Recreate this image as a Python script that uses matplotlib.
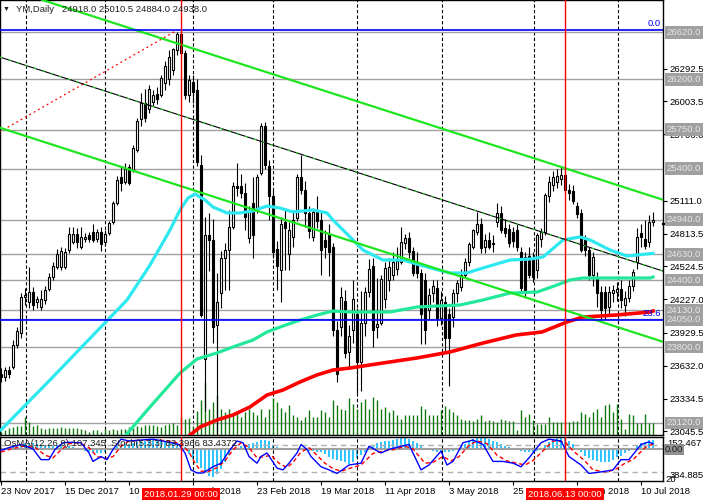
import matplotlib
matplotlib.use('Agg')
import matplotlib.pyplot as plt
import matplotlib.transforms as mtransforms
import numpy as np

plt.rcParams['font.family'] = ['Liberation Sans', 'DejaVu Sans']
FS = 6.8

# ---- data ----
opens = [
    23560, 23530, 23590, 23620, 23820, 23930, 24250, 24200, 24290, 24200,
    24160, 24220, 24320, 24430, 24520, 24520, 24520, 24670, 24740, 24810,
    24700, 24770, 24800, 24830, 24770, 24830, 24740, 24820, 24920, 25090,
    25320, 25280, 25410, 25390, 25570, 25840, 25990, 25930, 26000, 26070,
    26060, 26170, 26200, 26280, 26460, 26610, 26440, 26060, 26180, 26100,
    25430, 23690, 24800, 24760, 24000, 24280, 24600, 24670, 24880, 25240,
    25240, 25180, 24780, 25090, 25050, 25360, 25780, 25420, 25150, 24680,
    24490, 24920, 24630, 24790, 24960, 25320, 25210, 25000, 24790, 25020,
    24940, 24760, 24800, 24700, 23950, 23980, 24210, 23760, 23950, 24100,
    23670, 24020, 24290, 24530, 23980, 24020, 24230, 24400, 24450, 24500,
    24560, 24730, 24780, 24660, 24550, 24460, 24400, 24130, 24280, 24330,
    24060, 24200, 24100, 24070, 24280, 24340, 24450, 24560, 24700, 24830,
    24900, 24700, 24760, 24730, 24920, 25000, 24870, 24860, 24830, 24850,
    24650, 24610, 24620, 24580, 24490, 24770, 24830, 25150, 25250, 25280,
    25310, 25340, 25210, 25200, 25060, 25000, 24760, 24670, 24450, 24420,
    24290, 24290, 24160, 24280, 24290, 24320, 24180, 24240, 24350, 24560,
    24820, 24770, 24740, 24918]
highs = [
    23610, 23620, 23630, 23860, 23980, 24280, 24330, 24520, 24340, 24260,
    24310, 24350, 24460, 24560, 24680, 24700, 24690, 24880, 24880, 24870,
    24880, 24820, 24830, 24900, 24860, 24880, 24850, 24930, 25110, 25330,
    25420, 25450, 25440, 25610, 25850, 26080, 26110, 26150, 26100, 26130,
    26240, 26360, 26460, 26480, 26620, 26640, 26460, 26240, 26240, 26200,
    25520, 24970, 25000, 24950, 24460, 24660, 24730, 25030, 25280, 25450,
    25350, 25270, 25060, 25320, 25350, 25810, 25820, 25480, 25220, 24750,
    24970, 25030, 24920, 25030, 25350, 25520, 25290, 25060, 25050, 25150,
    25020, 24850, 24900, 24730, 24030, 24340, 24310, 24000, 24400, 24150,
    24300, 24340, 24590, 24600, 24420, 24450, 24560, 24600, 24650, 24700,
    24880, 24810, 24830, 24700, 24650, 24500, 24460, 24330, 24400, 24400,
    24300, 24260, 24150, 24320, 24400, 24500, 24600, 24740, 24860, 25010,
    24960, 24810, 24830, 24800, 25090, 25060, 24950, 24900, 24880, 24900,
    24700, 24650, 24700, 24650, 24820, 24870, 25180, 25330, 25380, 25400,
    25420, 25420, 25260, 25250, 25100, 25040, 24800, 24700, 24650, 24470,
    24350, 24350, 24350, 24360, 24380, 24400, 24300, 24400, 24500, 24870,
    24900, 24940, 24980, 25010.5]
lows = [
    23490, 23500, 23520, 23600, 23790, 23880, 24180, 24150, 24130, 24150,
    24130, 24190, 24300, 24400, 24500, 24490, 24500, 24640, 24720, 24690,
    24680, 24740, 24740, 24740, 24740, 24660, 24710, 24800, 24900, 25070,
    25200, 25260, 25250, 25370, 25550, 25780, 25820, 25900, 25960, 25980,
    26040, 26100, 26150, 26240, 26420, 26420, 26020, 26000, 25990, 25420,
    24070, 23230, 24480, 23840, 23020, 24150, 24310, 24310, 24860, 25150,
    25140, 24850, 24730, 24600, 25000, 25340, 25400, 24940, 24600, 24310,
    24200, 24490, 24490, 24700, 24930, 25170, 24880, 24780, 24750, 24870,
    24450, 24600, 24440, 23900, 23490, 23900, 23700, 23600, 23840, 23390,
    23410, 23900, 24250, 23800, 23880, 24000, 24150, 24300, 24400, 24450,
    24540, 24680, 24600, 24440, 24420, 23830, 23830, 24050, 24200, 23990,
    24000, 23760, 23450, 23980, 24200, 24300, 24420, 24530, 24680, 24800,
    24640, 24640, 24680, 24650, 24880, 24820, 24790, 24700, 24700, 24660,
    24300, 24250, 24420, 24380, 24420, 24700, 24800, 25100, 25200, 25230,
    25250, 25180, 25120, 25080, 24960, 24650, 24620, 24400, 24350, 24160,
    24050, 24050, 24080, 24200, 24210, 24150, 24080, 24200, 24300, 24500,
    24700, 24680, 24700, 24884]
closes = [
    23530, 23590, 23560, 23820, 23940, 24250, 24270, 24290, 24180, 24230,
    24230, 24310, 24430, 24530, 24630, 24660, 24650, 24810, 24810, 24740,
    24790, 24790, 24770, 24760, 24830, 24720, 24810, 24910, 25090, 25300,
    25270, 25400, 25270, 25580, 25830, 25990, 25850, 26110, 26060, 26020,
    26210, 26320, 26400, 26470, 26610, 26440, 26060, 26190, 26090, 25460,
    24090, 24800, 24760, 23980, 24200, 24600, 24670, 24880, 25240, 25230,
    25180, 24970, 25020, 24800, 25320, 25780, 25430, 25150, 24650, 24530,
    24900, 24870, 24850, 24940, 25320, 25210, 25000, 24840, 25010, 24930,
    24670, 24700, 24650, 23950, 23560, 24250, 23750, 23900, 24230, 23670,
    24020, 24290, 24500, 23950, 24010, 24410, 24510, 24520, 24560, 24570,
    24740, 24780, 24650, 24460, 24460, 24100, 23950, 24270, 24350, 24060,
    24220, 23880, 23880, 24280, 24370, 24450, 24560, 24720, 24850, 24900,
    24690, 24760, 24700, 24720, 25000, 24850, 24820, 24730, 24750, 24700,
    24330, 24310, 24450, 24430, 24800, 24830, 25160, 25280, 25320, 25330,
    25340, 25210, 25180, 25110, 24990, 24670, 24670, 24450, 24610, 24280,
    24130, 24150, 24290, 24310, 24320, 24220, 24240, 24350, 24470, 24790,
    24790, 24710, 24920, 24938]
volumes = [
    3, 5, 7, 8, 9, 9, 18, 13, 9, 10,
    7, 6, 7, 7, 7, 8, 7, 7, 7, 7,
    6, 5, 3, 5, 5, 3, 6, 5, 6, 5,
    6, 6, 8, 7, 9, 8, 10, 10, 10, 9,
    8, 10, 11, 12, 10, 18, 16, 17, 9, 24,
    35, 53, 26, 33, 40, 26, 23, 26, 20, 23,
    18, 23, 26, 23, 20, 26, 18, 26, 37, 33,
    27, 23, 30, 20, 18, 15, 18, 25, 18, 18,
    25, 23, 18, 35, 30, 26, 25, 37, 31, 26,
    33, 36, 26, 38, 35, 26, 28, 23, 25, 20,
    16, 20, 20, 20, 20, 29, 26, 20, 20, 20,
    25, 29, 26, 23, 20, 16, 15, 15, 14, 16,
    20, 14, 15, 14, 13, 16, 15, 14, 14, 5,
    25, 18, 21, 15, 11, 11, 11, 18, 13, 13,
    13, 14, 13, 14, 14, 23, 21, 18, 23, 26,
    18, 30, 31, 23, 31, 16, 6, 21, 20, 12,
    12, 21, 12, 12]
osma = [
    -20, -10, 5, 20, 40, 55, 70, 75, 70, 60,
    50, 45, 50, 55, 55, 50, 45, 40, 30, 15,
    0, -20, -35, -45, -50, -45, -35, -15, 10, 35,
    50, 60, 65, 75, 85, 95, 100, 105, 105, 100,
    95, 90, 88, 85, 80,
    60, 20, -60, -115, -170, -225, -275, -325, -340, -300, -240, -150, -65, -15, 15,
    35, 45, 60, 70, 90, 110, 112, 95, 50, 20,
    -5, -10, -10, -15, -10, -15, -20, -25, -25, -30,
    -35, -60, -90, -120, -130, -140, -155, -175, -150, -110, -75, -30, 35,
    55, 70, 90, 95, 95, 105, 120,
    140, 145, 120, 95, 70, 35,
    -5, -15, -25, -35, -40, -40, -35, -20, -5,
    30, 60, 95, 120, 140, 145, 135, 120, 100, 90, 60, 40, 20, 10, 5,
    -20, -35, -40, -35, -20, 10, 50, 90, 120, 140, 145, 130, 100, 60, 10,
    -40, -80, -110, -130, -145, -155, -160, -150, -130, -100, -80, -50, -20,
    10, 40, 70, 90, 105, 107.345]

# moving averages sampled along the curves (bar, price)
ma_fast_bars = [0, 12.25, 24.75, 31.5, 37.25, 42.25, 44.75, 46.75, 48.5, 51, 53,
                56.5, 59.75, 63, 66.5, 69.75, 73, 78, 81.5, 83, 87.25, 90.5,
                95.5, 100.5, 106.5, 112.25, 116.5, 120.5, 127.25, 132.25,
                135.5, 140.5, 144.75, 147.25, 152.25, 156.5, 163]
ma_fast = [23057, 23505, 23971, 24222, 24535, 24849, 25029, 25136, 25172, 25118,
           25055, 25002, 25002, 25020, 25064, 25046, 25011, 25029, 25002, 24939,
           24787, 24670, 24580, 24580, 24518, 24464, 24464, 24509, 24580, 24589,
           24607, 24760, 24787, 24760, 24670, 24616, 24640]
ma_mid_bars = [30, 37.25, 44.75, 49, 54, 58, 63, 66.5, 70.5, 74.75, 79, 83, 87.25,
               97.25, 104, 114.75, 120.5, 127.25, 134, 139, 142.25, 145.5,
               162.25, 163]
ma_mid = [22960, 23263, 23567, 23693, 23747, 23801, 23863, 23935, 23989, 24042,
          24087, 24123, 24114, 24114, 24159, 24177, 24222, 24284, 24293, 24356,
          24401, 24419, 24419, 24428]
ma_slow_bars = [45.5, 49.75, 54, 58, 62.25, 66.5, 70.5, 74.75, 79, 83, 87.25,
                95.5, 104, 112.25, 120.5, 128.75, 135.25, 141.5, 145.5, 153.75,
                162.25, 163]
ma_slow = [22960, 23083, 23146, 23191, 23263, 23370, 23415, 23487, 23550, 23594,
           23612, 23657, 23702, 23756, 23836, 23908, 23935, 24025, 24069, 24087,
           24114, 24123]

# stochastic (5,3,3) main and signal, sampled
stoch_bars = [0, 2, 5, 8, 10, 12, 13.5, 15.5, 17, 20, 22, 23, 25, 26.5, 28, 30, 32,
              35, 38, 41.5, 44.5, 46, 47.5, 49, 50.5, 53, 55, 57, 59, 60.5, 62, 64,
              65, 66.5, 69, 70.5, 72, 74, 75, 76.5, 77.5, 80, 82, 84, 85.5, 87, 90,
              92, 95, 97, 100, 102, 105, 107, 110, 111.5, 113, 115.5, 118, 120.5,
              123, 125.5, 128, 130, 132, 135, 137, 140, 142, 145, 147, 150.5, 153,
              155, 157, 160, 162, 163]
stoch_main = [69, 75, 82, 72, 48, 48, 71, 86, 87, 86, 63, 44, 55, 48, 71, 94, 90,
              92, 94, 88, 82, 63, 25, 18, 18, 32, 40, 67, 90, 86, 55, 40,
              55, 63, 29, 25, 40, 63, 82, 71, 55, 32, 25, 17, 26, 36, 40,
              78, 63, 71, 78, 82, 25, 36, 67, 36, 44, 86, 92, 82,
              44, 44, 40, 32, 52, 86, 94, 90, 55, 36, 17, 21, 25,
              48, 48, 82, 88, 83.3966]
signal_bars = [0, 2.5, 5.5, 8.5, 11, 13, 15, 17, 19.5, 22, 24, 26, 28, 30, 32, 35,
               38, 42, 45, 47, 48.5, 50, 52, 54, 56, 58, 60, 62, 64, 66, 67.5,
               69.5, 71.5, 73, 75, 77, 78.5, 81, 83, 85, 87, 90, 93, 96, 98, 101,
               103, 106, 108, 110.5, 112.5, 114.5, 117, 119, 121.5, 124, 126.5,
               129, 131, 133, 136, 138, 141, 143, 146, 148, 151.5, 154, 156, 158,
               161, 163]
stoch_signal = [65, 72, 78, 76, 58, 52, 70, 84, 86, 75, 55, 50, 55, 78, 90, 91,
                93, 90, 84, 65, 40, 22, 22, 30, 45, 70, 86, 75, 52, 55, 58,
                40, 30, 42, 65, 75, 62, 40, 28, 22, 28, 36, 62, 68, 70, 78,
                72, 40, 42, 55, 45, 55, 80, 90, 84, 58, 45,
                40, 36, 46, 72, 90, 88, 68, 45, 25, 20, 28, 40, 48,
                75, 83.4372]

# horizontal levels, trend lines, fibonacci
levels = [26620, 26200, 25750, 25400, 24940, 24630, 24400, 24130, 24050, 23800, 23120]
price_ticks = [26292.5, 26003.5, 25706.0, 25111.0, 24813.5, 24524.5,
               24227.0, 23929.5, 23632.0, 23334.5, 23045.5]
bid_price = 24900
channel_upper = [(30, 26684), (163, 25149)]
channel_mid = [(0, 26396), (163, 24510)]
channel_lower = [(0, 25763), (163, 23876)]
fib_line = [(-1, 25715), (44, 26640)]
fib_levels = [(26640, '0.0'), (24040, '23.6')]
cursor_bars = [45, 141]
cursor_labels = ['2018.01.29 00:00', '2018.06.13 00:00']
date_bars = [0, 16, 32, 48, 64, 80, 96, 112, 128, 144, 160]
date_labels = ['23 Nov 2017', '15 Dec 2017', '10 Jan 2018', '1 Feb 2018',
               '23 Feb 2018', '19 Mar 2018', '11 Apr 2018', '3 May 2018',
               '25 May 2018', '18 Jun 2018', '10 Jul 2018']
grid_bars = [6.2, 26.1, 48.1, 68.1, 89.1, 110.2, 133.2, 154.2]

# ---- figure ----
W, H = 703, 500
fig = plt.figure(figsize=(W / 100, H / 100), dpi=100)


def px_axes(x0, y0, x1, y1):
    return fig.add_axes([x0 / W, 1 - y1 / H, (x1 - x0) / W, (y1 - y0) / H])


def ftext(x, y, s, **kw):
    kw.setdefault('fontsize', FS)
    return fig.text(x / W, 1 - y / H, s, **kw)


ax = px_axes(0, 0, 662.5, 434.5)
sub = px_axes(0, 436.5, 662.5, 481)
XL = (-0.25, -0.25 + 662.5 / 4)
for a in (ax, sub):
    a.set_xlim(*XL)
    for s in a.spines.values():
        s.set_color('black')
        s.set_linewidth(1)
ax.set_ylim(23016, 26911)

bars = np.arange(len(closes))
o = np.array(opens, float)
h = np.array(highs, float)
l = np.array(lows, float)
c = np.array(closes, float)
up = c >= o

# grid and levels
for b in grid_bars:
    for a in (ax, sub):
        a.axvline(b, color='black', lw=0.8, ls=(0, (3, 2)), zorder=0.5)
for p in levels:
    ax.axhline(p, color='#a0a0a0', lw=1, zorder=1)

# volumes (own scale at the bottom of the price window)
vol_tr = mtransforms.blended_transform_factory(ax.transData, ax.transAxes)
ax.vlines(bars, 0, np.array(volumes) / 434.5, transform=vol_tr,
          color='#107a10', lw=1, zorder=1.5)

# candles
ax.vlines(bars, l, h, color='black', lw=0.8, zorder=2)
body = np.maximum(np.abs(c - o), 6)
ax.bar(bars, body, bottom=np.minimum(o, c), width=0.7,
       color=np.where(up, 'white', 'black'), edgecolor='black',
       linewidth=0.8, zorder=2.1)

# moving averages
ax.plot(ma_fast_bars, ma_fast, color='#2ee8f0', lw=2.3, zorder=3)
ax.plot(ma_mid_bars, ma_mid, color='#22e89a', lw=2.3, zorder=3)
ax.plot(ma_slow_bars, ma_slow, color='#ff0000', lw=2.6, zorder=3)

# trend channel
ax.axline(*channel_upper, color='#1ee61e', lw=1.6, zorder=3.2)
ax.axline(*channel_lower, color='#1ee61e', lw=1.6, zorder=3.2)
ax.axline(*channel_mid, color='black', lw=0.8, zorder=3.2)
ax.axline(*channel_mid, color='#1ee61e', lw=0.8, ls=(0, (2, 6)), zorder=3.3)

# fibonacci
fx, fy = zip(*fib_line)
ax.plot(fx, fy, color='#ff0000', lw=0.9, ls=(0, (1.5, 2.5)), zorder=3.1)
right_tr = mtransforms.blended_transform_factory(ax.transAxes, ax.transData)
for p, lab in fib_levels:
    ax.axhline(p, color='#0000ff', lw=1.2, zorder=3.4)
    ax.text(0.997, p + 20, lab, transform=right_tr, ha='right', va='bottom',
            color='#0000ff', fontsize=FS, zorder=6)

# cursor lines
for b in cursor_bars:
    for a in (ax, sub):
        a.axvline(b, color='#ff0000', lw=1, zorder=4)

# price axis
ax.set_xticks([])
ax.yaxis.tick_right()
ax.set_yticks(price_ticks)
ax.set_yticklabels([f'{v:.1f}' for v in price_ticks])
ax.tick_params(axis='y', direction='out', length=3, width=0.8, pad=2,
               labelsize=FS, colors='black')
ax.plot([1.0, 1.062], [bid_price, bid_price], transform=right_tr, color='black',
        lw=1.6, clip_on=False, zorder=5)
for p in levels:
    ax.text(1.0065, p, f'{p:.1f}', transform=right_tr, ha='left', va='center',
            color='#e6e6e6', fontsize=FS, clip_on=False, zorder=6,
            bbox=dict(boxstyle='square,pad=0.2', fc='#a0a0a0', ec='none'))

# title
ftext(3, 9.5, '\u25bc', va='center', color='#202020', fontsize=5)
ftext(16, 9.5, 'YM,Daily   %.1f %.1f %.1f %.1f' % (opens[-1], highs[-1], lows[-1], closes[-1]),
      va='center', color='#202020')

# ---- OsMA + Stochastic window ----
osw = sub.twinx()
osw.set_xlim(*XL)
osw.set_ylim(-384.885, 152.467)
sub.set_ylim(0, 100)
sub.set_zorder(osw.get_zorder() + 1)
sub.patch.set_visible(False)
osw.bar(bars, osma, width=0.6, color='#31c4ff', zorder=1)
osw.axhline(0, color='#a0a0a0', lw=1.5, zorder=1.5)
osw.set_yticks([])
for s in osw.spines.values():
    s.set_visible(False)
for lv in (80, 20):
    sub.axhline(lv, color='#b0b0b0', lw=1, ls=(0, (4, 3)), zorder=1)
sub.plot(signal_bars, stoch_signal, color='#ff0000', lw=1, ls=(0, (3, 2)), zorder=3)
sub.plot(stoch_bars, stoch_main, color='#0000ff', lw=1, zorder=3.1)
sub.set_yticks([])
sub.set_xticks(date_bars)
sub.set_xticklabels(date_labels, ha='left')
sub.tick_params(axis='x', direction='out', length=3, width=0.8, pad=1.5,
                labelsize=FS, colors='black')
sub.text(0.006, 0.85, 'OsMA(12,26,9) 107.345  Stoch(5,3,3) 83.3966 83.4372',
         transform=sub.transAxes, fontsize=FS, color='#202020', va='center', zorder=5)

ftext(667, 443.5, '152.467', va='center', color='black')
ftext(665, 449.5, '0.00', va='center', color='#202020',
      bbox=dict(boxstyle='square,pad=0.1', fc='#909090', ec='none'))
ftext(670, 475, '384.885', va='center', color='black')
ftext(665, 479.5, '20', va='center', color='black')

xtr = mtransforms.blended_transform_factory(sub.transData, sub.transAxes)
for b, lab in zip(cursor_bars, cursor_labels):
    sub.text(b, -0.2, lab, transform=xtr, ha='center', va='top', color='white',
             fontsize=FS, clip_on=False, zorder=10,
             bbox=dict(boxstyle='square,pad=0.25', fc='#ff0000', ec='none'))

fig.savefig('out.png', dpi=100, facecolor='white')
